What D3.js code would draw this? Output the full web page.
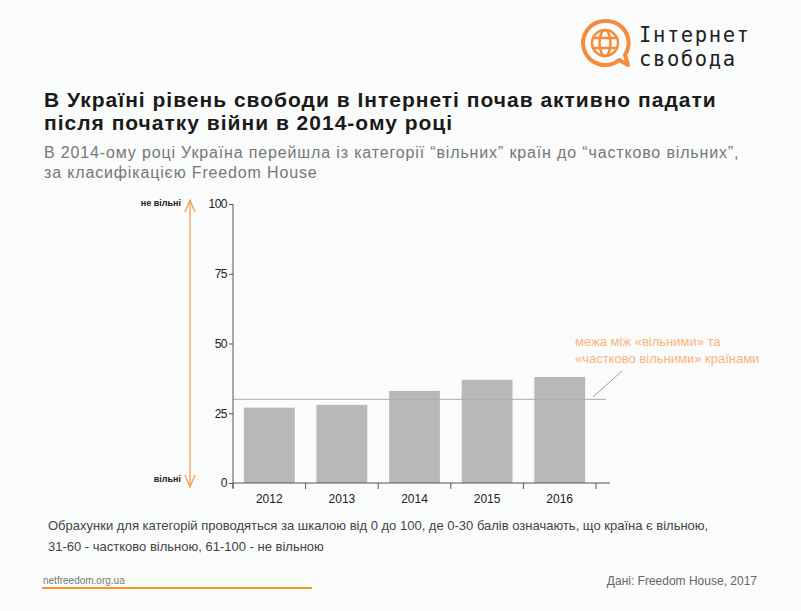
<!DOCTYPE html>
<html><head><meta charset="utf-8">
<script src="https://cdn.jsdelivr.net/npm/d3@7/dist/d3.min.js"></script>
<style>
html,body{margin:0;padding:0;background:#fafbfb;}
svg{display:block;font-family:"Liberation Sans",Arial,sans-serif;}
</style></head>
<body><svg id="c" width="801" height="611"></svg>
<script>
const years = ["2012","2013","2014","2015","2016"];
const scores = [27, 28, 33, 37, 38];
const yTicks = [0, 25, 50, 75, 100];
const threshold = 30;
const titleLines = ["В Україні рівень свободи в Інтернеті почав активно падати","після початку війни в 2014-ому році"];
const subtitleLines = ["В 2014-ому році Україна перейшла із категорії “вільних” країн до “частково вільних”,","за класифікацією Freedom House"];
const noteLines = ["Обрахунки для категорій проводяться за шкалою від 0 до 100, де 0-30 балів означають, що країна є вільною,","31-60 - частково вільною, 61-100 - не вільною"];
const annotationLines = ["межа між «вільними» та","«частково вільними» країнами"];
const logoLines = ["Інтернет","свобода"];

const svg = d3.select("#c");
svg.append("rect").attr("width",801).attr("height",611).attr("fill","#fafbfb");

const x = d3.scaleBand().domain(years).range([233,596]).paddingInner(0.3).paddingOuter(0.15);
const y = d3.scaleLinear().domain([0,100]).range([483,204]);

// title
svg.append("g").selectAll("text").data(titleLines).join("text")
  .attr("x",44).attr("y",(d,i)=>107+i*23)
  .attr("font-size",21).attr("font-weight","bold").attr("letter-spacing","1").attr("fill","#1a1a1a").text(d=>d);
svg.append("g").selectAll("text").data(subtitleLines).join("text")
  .attr("x",44).attr("y",(d,i)=>158+i*20)
  .attr("font-size",16).attr("letter-spacing","0.85").attr("fill","#777").text(d=>d);

// bars
svg.append("g").selectAll("rect").data(scores).join("rect")
  .attr("x",(d,i)=>x(years[i])).attr("width",x.bandwidth())
  .attr("y",d=>y(d)).attr("height",d=>y(0)-y(d)).attr("fill","#b7b8b9");

// threshold
svg.append("line").attr("x1",233).attr("x2",606).attr("y1",y(threshold)).attr("y2",y(threshold))
  .attr("stroke","#a9aaab").attr("stroke-width",1);

// y axis
const ya = svg.append("g").attr("transform","translate(233,0)")
  .call(d3.axisLeft(y).tickValues(yTicks).tickSize(4).tickPadding(2));
ya.select(".domain").attr("d","M0,204V488").attr("stroke","#555");
ya.selectAll(".tick line").attr("stroke","#555");
ya.selectAll("text").attr("font-size",12).attr("fill","#222").attr("font-family","Liberation Sans, Arial, sans-serif").attr("letter-spacing","-0.5");

// x axis
const xa = svg.append("g").attr("transform","translate(0,483)");
xa.append("line").attr("x1",233).attr("x2",610).attr("y1",0).attr("y2",0).attr("stroke","#555");
const edges = years.map(d=>x(d)-x.step()*x.paddingInner()/2).concat([x(years[4])+x.bandwidth()+x.step()*x.paddingInner()/2]);
xa.selectAll("line.t").data(edges).join("line").attr("class","t")
  .attr("x1",d=>d).attr("x2",d=>d).attr("y1",0).attr("y2",6).attr("stroke","#555");
xa.selectAll("text").data(years).join("text")
  .attr("x",d=>x(d)+x.bandwidth()/2).attr("y",20).attr("text-anchor","middle")
  .attr("font-size",12).attr("fill","#222").text(d=>d);

// annotation
svg.append("g").selectAll("text").data(annotationLines).join("text")
  .attr("x",575).attr("y",(d,i)=>346+i*17).attr("font-size",13).attr("fill","#f9b47c").text(d=>d);
svg.append("line").attr("x1",593).attr("y1",397).attr("x2",622).attr("y2",371)
  .attr("stroke","#888").attr("stroke-width",0.8);

// free / not free arrow
const ac = "#f39a45";
svg.append("line").attr("x1",190).attr("x2",190).attr("y1",y(100)-4).attr("y2",y(0)+4).attr("stroke",ac).attr("stroke-width",1.2);
svg.append("path").attr("d",`M185,${y(100)+8}L190,${y(100)-4}L195,${y(100)+8}`).attr("fill","none").attr("stroke",ac).attr("stroke-width",1.2);
svg.append("path").attr("d",`M185,${y(0)-8}L190,${y(0)+4}L195,${y(0)-8}`).attr("fill","none").attr("stroke",ac).attr("stroke-width",1.2);
svg.append("text").attr("x",181).attr("y",y(100)+2).attr("text-anchor","end").attr("font-size",9).attr("font-weight","bold").attr("fill","#222").text("не вільні");
svg.append("text").attr("x",181).attr("y",y(0)-1).attr("text-anchor","end").attr("font-size",9).attr("font-weight","bold").attr("fill","#222").text("вільні");

// note
svg.append("g").selectAll("text").data(noteLines).join("text")
  .attr("x",48).attr("y",(d,i)=>530+i*21).attr("font-size",13).attr("fill","#444").text(d=>d);

// footer
svg.append("text").attr("x",43).attr("y",584).attr("font-size",10).attr("fill","#777").text("netfreedom.org.ua");
svg.append("line").attr("x1",42).attr("x2",312).attr("y1",588).attr("y2",588).attr("stroke","#f7941d").attr("stroke-width",2);
svg.append("text").attr("x",757).attr("y",585).attr("text-anchor","end").attr("font-size",12).attr("fill","#666").text("Дані: Freedom House, 2017");

// logo
const lg = svg.append("g");
const oc = "#f68b3a";
lg.append("path").attr("d","M605,21 A22,22 0 1 0 619,60 L628,65 L625,55 A22,22 0 0 0 605,21 Z")
  .attr("fill","none").attr("stroke",oc).attr("stroke-width",4).attr("stroke-linejoin","round");
lg.append("circle").attr("cx",605).attr("cy",43).attr("r",13).attr("fill","none").attr("stroke",oc).attr("stroke-width",2.5);
lg.append("ellipse").attr("cx",605).attr("cy",43).attr("rx",5.5).attr("ry",13).attr("fill","none").attr("stroke",oc).attr("stroke-width",2.5);
lg.append("line").attr("x1",592).attr("x2",618).attr("y1",38).attr("y2",38).attr("stroke",oc).attr("stroke-width",2.5);
lg.append("line").attr("x1",592).attr("x2",618).attr("y1",48).attr("y2",48).attr("stroke",oc).attr("stroke-width",2.5);
lg.selectAll("text.logo").data(logoLines).join("text").attr("class","logo")
  .attr("x",639).attr("y",(d,i)=>42+i*24).attr("font-size",20.5).attr("letter-spacing","1.6")
  .attr("fill","#222").attr("font-family","DejaVu Sans Mono, monospace").text(d=>d);
</script></body></html>
